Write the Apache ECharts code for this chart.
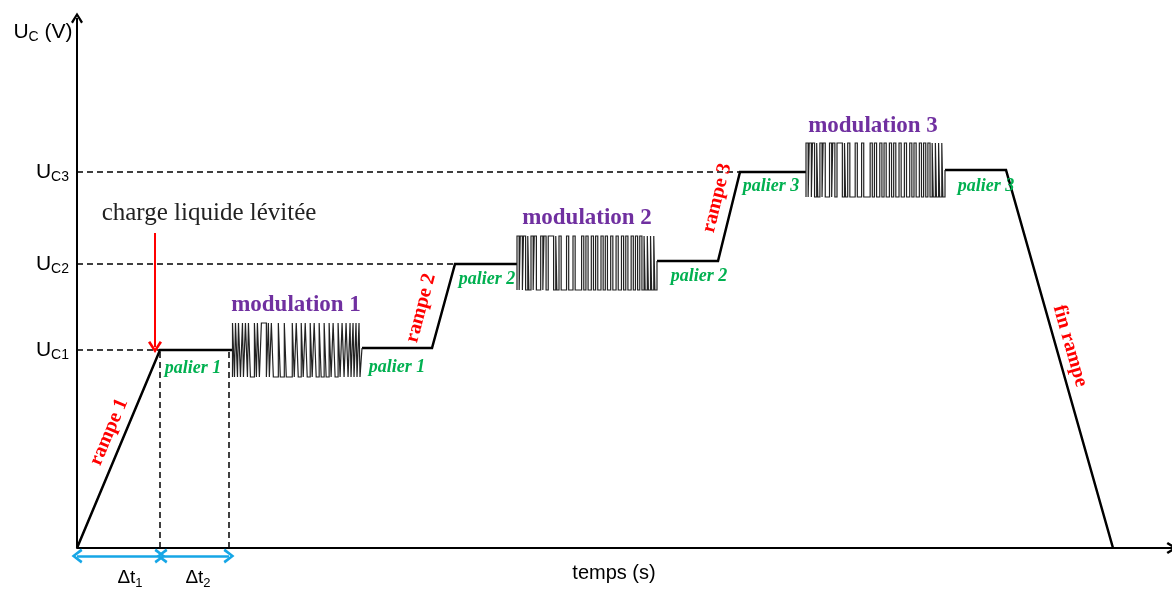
<!DOCTYPE html>
<html>
<head>
<meta charset="utf-8">
<script src="https://cdn.jsdelivr.net/npm/echarts@6/dist/echarts.min.js"></script>
<style>
html, body { margin: 0; padding: 0; background: #fff; }
#main { width: 1172px; height: 592px; }
</style>
</head>
<body>
<div id="main"></div>
<script>
// x : temps (unités arbitraires), y : tension de commande (unités arbitraires)
const uLevels = [198, 284, 376]
const uNames = ['C1', 'C2', 'C3']

// tracé principal (rampes + paliers)
const segRampe1 = [[0, 0], [83, 198], [155.5, 198]]
const segPalier1 = [[285, 200], [355, 200], [378, 284], [440, 284]]
const segPalier2 = [[580, 287], [641, 287], [663, 376], [729, 376]]
const segFin = [[868, 378], [929, 378], [1036, 0]]

// fenêtres de modulation
const modStart = [155.5, 440, 729]
const modEnd = [285, 580, 868]
const modLow = [171, 258, 351]
const modHigh = [225, 312, 405]
const modAfter = [200, 287, 378]
const modEdges = [2, 3, 5, 6, 8, 10, 11, 13, 15, 16, 18, 22, 24, 25, 27, 29, 34, 36, 37, 39,
  41, 46, 48, 52, 54, 60, 62, 64, 66, 69, 71, 73, 75, 78, 80, 82, 84, 87, 89, 92, 94, 97,
  99, 101, 103, 106, 108, 110, 112, 114, 116, 118, 119, 121, 122, 124, 125, 127, 128]

// pointillés
const dashed = [
  [[0, 198], [83, 198]],
  [[0, 284], [378, 284]],
  [[0, 376], [663, 376]],
  [[83, 0], [83, 198]],
  [[152, 0], [152, 198]]
]
const redArrow = [[78, 315], [78, 201]]
const dtArrows = [[[0, -8], [83, -8]], [[85, -8], [152, -8]]]

// textes
const paliers = [[116, 180, 'palier 1'], [320, 181, 'palier 1'], [410, 269, 'palier 2'],
  [622, 272, 'palier 2'], [694, 362, 'palier 3'], [909, 362, 'palier 3']]
const modLabels = [[219, 243, 'modulation 1'], [510, 330, 'modulation 2'], [796, 422, 'modulation 3']]
const rampes = [[32, 116, 'rampe 1', 67], [344, 240, 'rampe 2', 75], [640, 350, 'rampe 3', 76],
  [993, 202, 'fin rampe', -74]]
const dtLabels = [[53, -30, '1'], [121, -30, '2']]
const chargeLabel = [132, 335, 'charge liquide lévitée']
const ucLabel = [-34, 516]
const xName = [537, -25, 'temps (s)']

const chevron = 'path://M5,0 L10,8 L8.4,9.2 L5,3.4 L1.6,9.2 L0,8 Z'
const serif = 'Liberation Serif'
const sans = 'Liberation Sans'

function stepData (k) {
  const x0 = modStart[k]
  const s = (modEnd[k] - x0) / 130
  const pts = [[x0, modLow[k]], [x0, modHigh[k]]]
  let hi = true
  for (const e of modEdges) {
    const x = x0 + e * s
    pts.push([x, hi ? modHigh[k] : modLow[k]])
    hi = !hi
    pts.push([x, hi ? modHigh[k] : modLow[k]])
  }
  pts.push([modEnd[k], hi ? modHigh[k] : modLow[k]])
  pts.push([modEnd[k], modAfter[k]])
  return pts
}

function lineSeries (data, width, color) {
  return {
    type: 'line',
    data: data,
    symbol: 'none',
    silent: true,
    lineStyle: { color: color, width: width, join: 'miter', cap: 'butt' },
    z: 3
  }
}

const textItems = []
paliers.forEach(p => textItems.push({
  value: [p[0], p[1]],
  label: { formatter: p[2], color: '#00b050', fontFamily: serif, fontStyle: 'italic', fontWeight: 'bold', fontSize: 18 }
}))
modLabels.forEach(p => textItems.push({
  value: [p[0], p[1]],
  label: { formatter: p[2], color: '#7030a0', fontFamily: serif, fontWeight: 'bold', fontSize: 23 }
}))
rampes.forEach(p => textItems.push({
  value: [p[0], p[1]],
  label: { formatter: p[2], color: '#ff0000', fontFamily: serif, fontWeight: 'bold', fontSize: 20, rotate: p[3] }
}))
dtLabels.forEach(p => textItems.push({
  value: [p[0], p[1]],
  label: {
    formatter: '{d|Δt}{s|' + p[2] + '}',
    rich: {
      d: { fontFamily: sans, fontSize: 19, color: '#000' },
      s: { fontFamily: sans, fontSize: 13, color: '#000', padding: [10, 0, 0, 0] }
    }
  }
}))
textItems.push({
  value: [chargeLabel[0], chargeLabel[1]],
  label: { formatter: chargeLabel[2], color: '#222', fontFamily: serif, fontSize: 25 }
})
textItems.push({
  value: ucLabel,
  label: {
    formatter: '{u|U}{s|C}{u| (V)}',
    rich: {
      u: { fontFamily: sans, fontSize: 21, color: '#000' },
      s: { fontFamily: sans, fontSize: 14, color: '#000', padding: [10, 0, 0, 0] }
    }
  }
})
textItems.push({
  value: [xName[0], xName[1]],
  label: { formatter: xName[2], color: '#000', fontFamily: sans, fontSize: 20 }
})

const markDashed = dashed.map(d => [{ coord: d[0] }, { coord: d[1] }])

const option = {
  backgroundColor: '#fff',
  animation: false,
  grid: { left: 77, right: 0, top: 14, bottom: 0, outerBoundsMode: 'none', containLabel: false },
  xAxis: {
    type: 'value',
    min: 0,
    max: 1095,
    axisLine: { onZero: true, symbol: ['none', chevron], symbolSize: [12, 11], lineStyle: { color: '#000', width: 2 } },
    axisTick: { show: false },
    axisLabel: { show: false },
    splitLine: { show: false }
  },
  yAxis: {
    type: 'value',
    min: -44,
    max: 534,
    axisLine: { show: false },
    axisTick: { show: false },
    splitLine: { show: false },
    axisLabel: {
      customValues: uLevels,
      margin: 8,
      formatter: v => '{u|U}{s|' + uNames[uLevels.indexOf(v)] + '}',
      rich: {
        u: { fontFamily: sans, fontSize: 21, color: '#000' },
        s: { fontFamily: sans, fontSize: 14, color: '#000', padding: [10, 0, 0, 0] }
      }
    }
  },
  series: [
    lineSeries(segRampe1, 2.5, '#000'),
    lineSeries(segPalier1, 2.5, '#000'),
    lineSeries(segPalier2, 2.5, '#000'),
    lineSeries(segFin, 2.5, '#000'),
    lineSeries(stepData(0), 1.2, '#222'),
    lineSeries(stepData(1), 1.2, '#222'),
    lineSeries(stepData(2), 1.2, '#222'),
    {
      type: 'line',
      data: [],
      markLine: {
        silent: true,
        symbol: 'none',
        label: { show: false },
        lineStyle: { color: '#000', width: 1.5, type: [6, 4] },
        data: markDashed
      }
    },
    {
      type: 'line',
      data: [],
      markLine: {
        silent: true,
        label: { show: false },
        data: [
          [{ coord: [0, 0], symbol: 'none' }, { coord: [0, 530], symbol: chevron, symbolSize: [12, 11] }],
          [{ coord: redArrow[0], symbol: 'none' }, { coord: redArrow[1], symbol: chevron, symbolSize: [14, 12] }]
        ].map((d, i) => {
          const c = i === 0 ? '#000' : '#ff0000'
          d.forEach(p => { p.lineStyle = { color: c, width: 2, type: 'solid' } })
          return d
        })
      }
    },
    {
      type: 'line',
      data: [],
      markLine: {
        silent: true,
        symbol: [chevron, chevron],
        symbolSize: [15, 11],
        label: { show: false },
        lineStyle: { color: '#16a6e6', width: 2.5, type: 'solid' },
        data: dtArrows.map(d => [{ coord: d[0] }, { coord: d[1] }])
      }
    },
    {
      type: 'scatter',
      symbol: 'circle',
      symbolSize: 1,
      itemStyle: { color: 'rgba(0,0,0,0)', opacity: 1 },
      clip: false,
      silent: true,
      label: { show: true, position: 'inside' },
      data: textItems,
      z: 5
    }
  ]
}

const myChart = echarts.init(document.getElementById('main'))
myChart.setOption(option)
</script>
</body>
</html>
